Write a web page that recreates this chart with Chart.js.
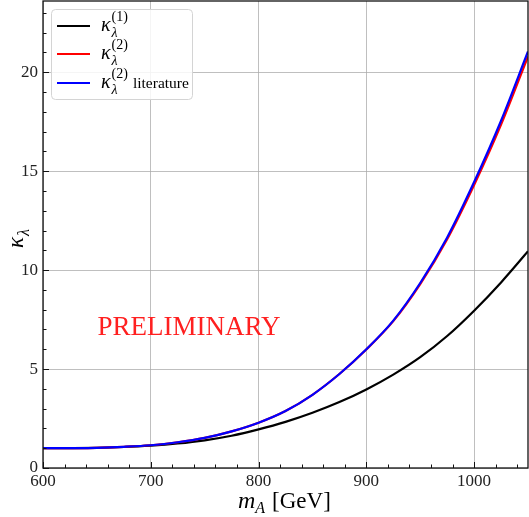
<!DOCTYPE html>
<html>
<head>
<meta charset="utf-8">
<script src="https://cdn.jsdelivr.net/npm/chart.js@4/dist/chart.umd.min.js"></script>
<style>
  html, body { margin: 0; padding: 0; background: #fff; }
  canvas { display: block; }
</style>
</head>
<body>
<canvas id="grafico" width="529" height="517"></canvas>
<script>
// pseudoscalar mass [GeV]
const mA = [600, 625, 650, 675, 700, 725, 750, 775, 800, 825, 850, 875, 900, 925, 950, 975, 1000, 1025, 1050];
// trilinear coupling modifier, one-loop
const kappaOne = [1.00, 1.005, 1.02, 1.06, 1.13, 1.24, 1.40, 1.63, 1.95, 2.33, 2.79, 3.33, 3.97, 4.72, 5.60, 6.67, 7.95, 9.38, 10.95];
// two-loop
const kappaTwo = [1.00, 1.005, 1.02, 1.07, 1.15, 1.30, 1.52, 1.85, 2.29, 2.88, 3.70, 4.75, 5.99, 7.42, 9.29, 11.56, 14.30, 17.35, 20.80];
// two-loop, literature
const kappaTwoLit = [1.00, 1.005, 1.02, 1.07, 1.15, 1.30, 1.52, 1.85, 2.29, 2.88, 3.70, 4.75, 6.00, 7.45, 9.35, 11.65, 14.45, 17.55, 21.05];

const xTicks = [600, 700, 800, 900, 1000];
const yTicks = [0, 5, 10, 15, 20];
const stamp = 'PRELIMINARY';

const serif = "'Liberation Serif', 'DejaVu Serif', serif";

function pts(ys) {
  return mA.map((m, i) => ({ x: m, y: ys[i] }));
}

// κ_λ with an optional superscript, returns the x after the glyphs
function drawKappa(ctx, x, y, size, sup) {
  ctx.textAlign = 'left';
  ctx.textBaseline = 'alphabetic';
  ctx.font = `italic ${size}px ${serif}`;
  ctx.fillText('κ', x, y);
  const w = ctx.measureText('κ').width;
  const small = Math.round(size * 0.68);
  ctx.font = `italic ${small}px ${serif}`;
  ctx.fillText('λ', x + w + 1, y + small * 0.4);
  let end = x + w + 1 + ctx.measureText('λ').width;
  if (sup) {
    ctx.font = `${small}px ${serif}`;
    ctx.fillText(sup, x + w + 1, y - size * 0.5);
    end = Math.max(end, x + w + 1 + ctx.measureText(sup).width);
  }
  return end;
}

const extras = {
  id: 'extras',
  afterDraw(chart) {
    const ctx = chart.ctx;
    const a = chart.chartArea;
    const sx = chart.scales.x, sy = chart.scales.y;
    ctx.save();

    // frame
    ctx.strokeStyle = '#111';
    ctx.lineWidth = 1.3;
    ctx.strokeRect(a.left, a.top, a.right - a.left, a.bottom - a.top);

    // inward ticks, major and minor
    ctx.lineWidth = 1;
    ctx.beginPath();
    for (let v = 600; v < 1050; v += 20) {
      const px = Math.round(sx.getPixelForValue(v)) + 0.5;
      const len = v % 100 === 0 ? 6 : 3.5;
      ctx.moveTo(px, a.bottom);
      ctx.lineTo(px, a.bottom - len);
    }
    for (let v = 0; v < 24; v += 1) {
      const py = Math.round(sy.getPixelForValue(v)) + 0.5;
      const len = v % 5 === 0 ? 6 : 3.5;
      ctx.moveTo(a.left, py);
      ctx.lineTo(a.left + len, py);
    }
    ctx.stroke();

    // stamp
    ctx.fillStyle = '#ff2020';
    ctx.font = `27px ${serif}`;
    ctx.textAlign = 'center';
    ctx.textBaseline = 'middle';
    ctx.fillText(stamp, sx.getPixelForValue(735.5), sy.getPixelForValue(7.1));

    // axis titles
    ctx.fillStyle = '#000';
    ctx.font = `italic 24px ${serif}`;
    ctx.textAlign = 'left';
    ctx.textBaseline = 'alphabetic';
    const xl = 238, yl = 508;
    ctx.fillText('m', xl, yl);
    const mw = ctx.measureText('m').width;
    ctx.font = `italic 16px ${serif}`;
    ctx.fillText('A', xl + mw, yl + 5);
    const aw = ctx.measureText('A').width;
    ctx.font = `23px ${serif}`;
    ctx.fillText('[GeV]', xl + mw + aw + 7, yl);

    ctx.save();
    ctx.translate(23, 248);
    ctx.rotate(-Math.PI / 2);
    drawKappa(ctx, 0, 0, 23, null);
    ctx.restore();

    // legend
    const lx = 51.5, ly = 9.5, lw = 141, lh = 90;
    ctx.fillStyle = 'rgba(255,255,255,0.85)';
    ctx.strokeStyle = '#d4d4d4';
    ctx.lineWidth = 1;
    ctx.beginPath();
    ctx.roundRect(lx, ly, lw, lh, 4);
    ctx.fill();
    ctx.stroke();
    const rows = [
      { color: '#000000', sup: '(1)', extra: '' },
      { color: '#ff0000', sup: '(2)', extra: '' },
      { color: '#0000ff', sup: '(2)', extra: 'literature' }
    ];
    const rowY = [26, 54, 83];
    rows.forEach((r, i) => {
      ctx.strokeStyle = r.color;
      ctx.lineWidth = 2;
      ctx.beginPath();
      ctx.moveTo(57, rowY[i]);
      ctx.lineTo(90, rowY[i]);
      ctx.stroke();
      ctx.fillStyle = '#000';
      const end = drawKappa(ctx, 101, rowY[i] + 5, 20, r.sup);
      if (r.extra) {
        ctx.font = `15.5px ${serif}`;
        ctx.textAlign = 'left';
        ctx.fillText(r.extra, end + 5, rowY[i] + 5);
      }
    });

    ctx.restore();
  }
};

// Chart.js paints the first dataset on top, so the literature curve comes first
new Chart(document.getElementById('grafico').getContext('2d'), {
  type: 'line',
  data: {
    datasets: [
      { label: 'kappa2 literature', data: pts(kappaTwoLit), borderColor: '#0000ff', borderWidth: 2.2 },
      { label: 'kappa2', data: pts(kappaTwo), borderColor: '#ff0000', borderWidth: 2.2 },
      { label: 'kappa1', data: pts(kappaOne), borderColor: '#000000', borderWidth: 2.2 }
    ]
  },
  options: {
    responsive: false,
    animation: false,
    devicePixelRatio: 1,
    layout: { padding: { top: 1, right: 1, left: 0, bottom: 0 } },
    elements: {
      point: { radius: 0 },
      line: { cubicInterpolationMode: 'monotone', fill: false }
    },
    plugins: {
      legend: { display: false },
      tooltip: { enabled: false }
    },
    scales: {
      x: {
        type: 'linear',
        min: 600,
        max: 1050,
        afterBuildTicks: s => { s.ticks = xTicks.map(v => ({ value: v })); },
        afterFit: s => { s.height = 49; s.paddingLeft = 0; s.paddingRight = 0; },
        grid: { color: 'rgba(170,170,170,0.75)', lineWidth: 1, drawTicks: false },
        border: { display: false },
        ticks: { color: '#222', font: { family: serif, size: 17 }, padding: 3, maxRotation: 0, callback: v => String(v) }
      },
      y: {
        type: 'linear',
        min: 0,
        max: 23.6,
        afterBuildTicks: s => { s.ticks = yTicks.map(v => ({ value: v })); },
        afterFit: s => { s.width = 43; s.paddingTop = 0; s.paddingBottom = 0; },
        grid: { color: 'rgba(170,170,170,0.75)', lineWidth: 1, drawTicks: false },
        border: { display: false },
        ticks: { color: '#222', font: { family: serif, size: 17 }, padding: 5, callback: v => String(v) }
      }
    }
  },
  plugins: [extras]
});
</script>
</body>
</html>
